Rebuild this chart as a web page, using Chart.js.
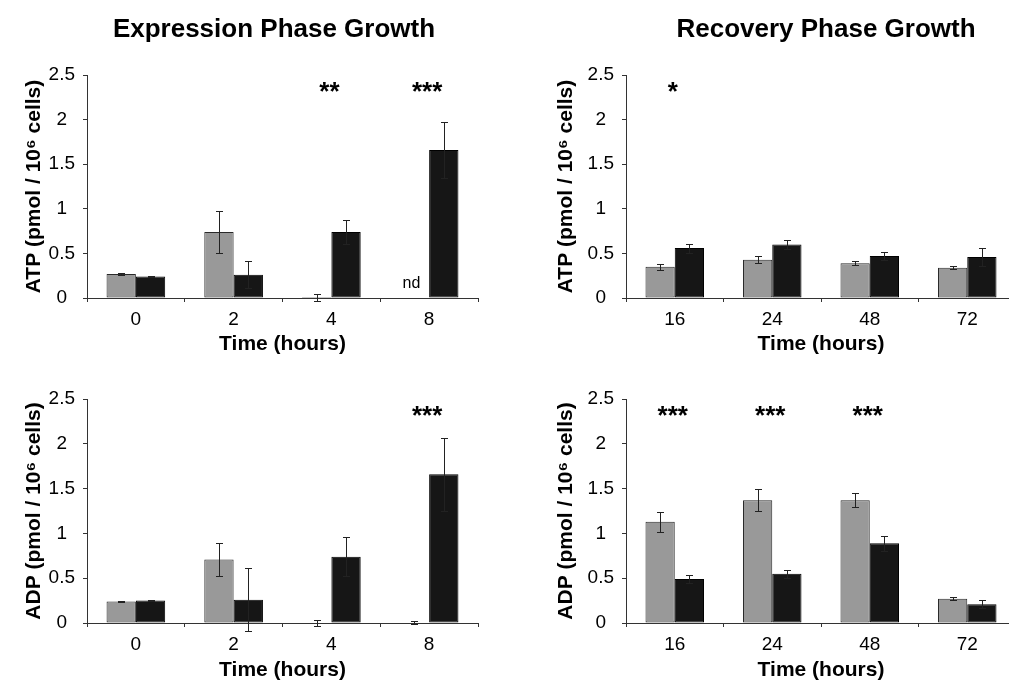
<!DOCTYPE html>
<html>
<head>
<meta charset="utf-8">
<script src="https://cdn.jsdelivr.net/npm/chart.js@4.4.1/dist/chart.umd.min.js"></script>
<style>
html, body { margin: 0; padding: 0; overflow: hidden; background: #fff; width: 1009px; height: 680px; }
canvas { position: absolute; }
</style>
</head>
<body>
<canvas id="atpExp" width="548" height="360" style="left:0px;top:0px;width:548px;height:360px"></canvas>
<canvas id="atpRec" width="574" height="360" style="left:539px;top:0px;width:574px;height:360px"></canvas>
<canvas id="adpExp" width="548" height="330" style="left:0px;top:360px;width:548px;height:330px"></canvas>
<canvas id="adpRec" width="574" height="330" style="left:539px;top:360px;width:574px;height:330px"></canvas>
<script>
// ---- data ----
const expTimes = ['0', '2', '4', '8'];
const recTimes = ['16', '24', '48', '72'];
const yTickValues = [0, 0.5, 1, 1.5, 2, 2.5];
const yTickLabels = ['0', '0.5', '1', '1.5', '2', '2.5'];

const atpExpCtrl      = [0.27, 0.74, 0.01, null];
const atpExpCtrlErr   = [0.01, 0.23, 0.04, null];
const atpExpTreat     = [0.24, 0.26, 0.74, 1.66];
const atpExpTreatErr  = [0.01, 0.15, 0.135, 0.31];
const atpExpSig       = ['', '', '**', '***'];
const atpExpNote      = ['', '', '', 'nd'];

const atpRecCtrl      = [0.35, 0.43, 0.39, 0.34];
const atpRecCtrlErr   = [0.035, 0.037, 0.02, 0.02];
const atpRecTreat     = [0.56, 0.60, 0.47, 0.46];
const atpRecTreatErr  = [0.05, 0.05, 0.045, 0.105];
const atpRecSig       = ['*', '', '', ''];

const adpExpCtrl      = [0.24, 0.71, 0.0, 0.005];
const adpExpCtrlErr   = [0.005, 0.18, 0.03, 0.02];
const adpExpTreat     = [0.25, 0.26, 0.74, 1.66];
const adpExpTreatErr  = [0.005, 0.35, 0.22, 0.41];
const adpExpSig       = ['', '', '', '***'];

const adpRecCtrl      = [1.13, 1.37, 1.37, 0.27];
const adpRecCtrlErr   = [0.11, 0.12, 0.08, 0.015];
const adpRecTreat     = [0.49, 0.55, 0.89, 0.21];
const adpRecTreatErr  = [0.045, 0.045, 0.085, 0.045];
const adpRecSig       = ['***', '***', '***', ''];

// ---- drawing ----
const FONT = "'Liberation Sans', Arial, Helvetica, sans-serif";
Chart.defaults.font.family = FONT;
Chart.defaults.color = '#000';

const errorBars = {
  id: 'errorBars',
  afterDatasetsDraw(chart) {
    const ctx = chart.ctx, ys = chart.scales.y;
    chart.data.datasets.forEach((ds, i) => {
      if (!ds.errors) return;
      const meta = chart.getDatasetMeta(i);
      ctx.save();
      ctx.strokeStyle = '#222';
      ctx.lineWidth = 1;
      meta.data.forEach((bar, j) => {
        const v = ds.data[j], e = ds.errors[j];
        if (v == null || e == null) return;
        const x = Math.round(bar.x) + 0.5;
        const yt = Math.round(ys.getPixelForValue(v + e)) + 0.5;
        const yb = Math.round(ys.getPixelForValue(v - e)) + 0.5;
        ctx.beginPath();
        ctx.moveTo(x, yt); ctx.lineTo(x, yb);
        ctx.moveTo(x - 3.5, yt); ctx.lineTo(x + 3.5, yt);
        ctx.moveTo(x - 3.5, yb); ctx.lineTo(x + 3.5, yb);
        ctx.stroke();
      });
      ctx.restore();
    });
  }
};

const marks = {
  id: 'marks',
  afterDatasetsDraw(chart, args, opts) {
    const ctx = chart.ctx, xs = chart.scales.x, ys = chart.scales.y;
    ctx.save();
    ctx.fillStyle = '#000';
    ctx.textAlign = 'center';
    ctx.textBaseline = 'alphabetic';
    ctx.font = 'bold 26px ' + FONT;
    (opts.sig || []).forEach((s, j) => {
      if (s) ctx.fillText(s, xs.getPixelForValue(j) - 2, ys.getPixelForValue(2.35) + 12);
    });
    ctx.font = '16px ' + FONT;
    const meta = chart.getDatasetMeta(0);
    (opts.notes || []).forEach((n, j) => {
      if (n) ctx.fillText(n, meta.data[j].x - 3, ys.getPixelForValue(0) - 10);
    });
    ctx.restore();
  }
};

function panel(id, p) {
  const cfg = {
    type: 'bar',
    data: {
      labels: p.labels,
      datasets: [
        { data: p.ctrl, errors: p.ctrlErr, backgroundColor: '#999999', borderColor: '#2a2a2a', borderWidth: 1, borderSkipped: false },
        { data: p.treat, errors: p.treatErr, backgroundColor: '#161616', borderColor: '#000', borderWidth: 1, borderSkipped: false }
      ]
    },
    options: {
      responsive: false,
      animation: false,
      events: [],
      layout: { padding: { top: p.padTop || 0, left: 0, right: 0, bottom: 0 }, autoPadding: false },
      datasets: { bar: { categoryPercentage: 0.6, barPercentage: 1.0 } },
      plugins: {
        legend: { display: false },
        tooltip: { enabled: false },
        title: p.title ? {
          display: true, text: p.title, color: '#000',
          font: { size: 26, weight: 'bold', lineHeight: 1.2 },
          padding: { top: 14, bottom: 29.8 }
        } : { display: false },
        marks: { sig: p.sig, notes: p.notes }
      },
      scales: {
        x: {
          grid: { display: true, offset: true, drawOnChartArea: false, drawTicks: true, tickLength: 4, color: '#333' },
          border: { display: true, color: '#333', width: 1 },
          ticks: { font: { size: 19 }, padding: 6, color: '#000' },
          title: { display: true, text: 'Time (hours)', font: { size: 21, weight: 'bold', lineHeight: 1.2 }, color: '#000', padding: { top: 0, bottom: p.xTitlePad } },
          afterFit: s => { s.height = p.xHeight; }
        },
        y: {
          min: 0, max: 2.5,
          afterBuildTicks: s => { s.ticks = yTickValues.map(v => ({ value: v })); },
          grid: { display: true, drawOnChartArea: false, drawTicks: true, tickLength: 4, color: '#333' },
          border: { display: true, color: '#333', width: 1 },
          ticks: {
            font: { size: 19 }, padding: 8, crossAlign: 'center', color: '#000',
            callback: (v) => yTickLabels[yTickValues.indexOf(v)]
          },
          title: { display: true, text: p.yTitle, font: { size: 21, weight: 'bold', lineHeight: 1.2 }, color: '#000', padding: { top: p.yTitlePad, bottom: 0 } },
          afterFit: s => { s.width = 87; }
        },
        spacer: {
          type: 'linear', position: 'right', display: true,
          grid: { display: false }, border: { display: false }, ticks: { display: false },
          afterFit: s => { s.width = p.rightSpace; }
        }
      }
    },
    plugins: [errorBars, marks]
  };
  return new Chart(document.getElementById(id), cfg);
}

panel('atpExp', {
  labels: expTimes, ctrl: atpExpCtrl, ctrlErr: atpExpCtrlErr, treat: atpExpTreat, treatErr: atpExpTreatErr,
  sig: atpExpSig, notes: atpExpNote, title: 'Expression Phase Growth',
  yTitle: 'ATP (pmol / 10\u2076 cells)', yTitlePad: 22, rightSpace: 70, xHeight: 62, xTitlePad: 3.4
});
panel('atpRec', {
  labels: recTimes, ctrl: atpRecCtrl, ctrlErr: atpRecCtrlErr, treat: atpRecTreat, treatErr: atpRecTreatErr,
  sig: atpRecSig, title: 'Recovery Phase Growth',
  yTitle: 'ATP (pmol / 10\u2076 cells)', yTitlePad: 14.4, rightSpace: 97, xHeight: 62, xTitlePad: 3.4
});
panel('adpExp', {
  labels: expTimes, ctrl: adpExpCtrl, ctrlErr: adpExpCtrlErr, treat: adpExpTreat, treatErr: adpExpTreatErr,
  sig: adpExpSig, padTop: 39,
  yTitle: 'ADP (pmol / 10\u2076 cells)', yTitlePad: 22, rightSpace: 70, xHeight: 67, xTitlePad: 7.5
});
panel('adpRec', {
  labels: recTimes, ctrl: adpRecCtrl, ctrlErr: adpRecCtrlErr, treat: adpRecTreat, treatErr: adpRecTreatErr,
  sig: adpRecSig, padTop: 39,
  yTitle: 'ADP (pmol / 10\u2076 cells)', yTitlePad: 14.4, rightSpace: 97, xHeight: 67, xTitlePad: 7.5
});
</script>
</body>
</html>
